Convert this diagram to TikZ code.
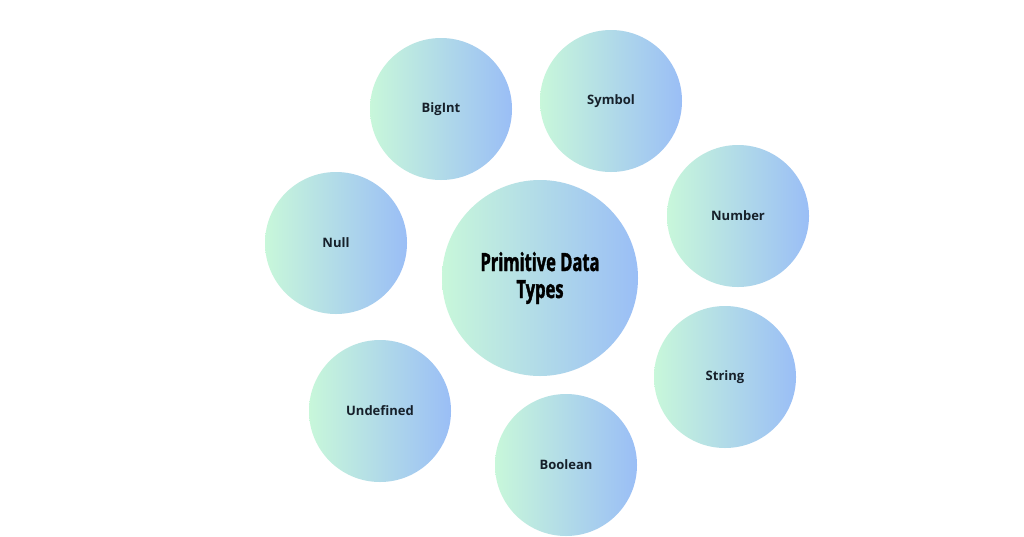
\documentclass[tikz,border=0pt]{standalone}
\usepackage{fontspec}
\setmainfont{Open Sans}
\newfontfamily\titlefont[FakeStretch=0.66,FakeBold=1.5]{Open Sans}
\definecolor{mint}{HTML}{C8F7DA}
\definecolor{skyb}{HTML}{9ABEF6}
\definecolor{ink}{HTML}{16202A}
\tikzset{
  bubble/.style={circle, draw=none, left color=mint, right color=skyb, minimum size=142pt, inner sep=0pt, text=ink, font=\fontsize{13}{15}\selectfont\bfseries},
  bigbubble/.style={bubble, minimum size=196pt, align=center, text=black, font=\titlefont\fontsize{25}{27}\selectfont\bfseries}
}
\begin{document}
\begin{tikzpicture}[x=1pt,y=-1pt]
\useasboundingbox (0,0) rectangle (1024,536);
\fill[white] (0,0) rectangle (1024,536);
\node[bigbubble] (core) at (540,278) {Primitive Data\\Types};
\node[bubble] (bigint) at (441,109) {BigInt};
\node[bubble] (symbol) at (611,101) {Symbol};
\node[bubble] (number) at (738,216) {Number};
\node[bubble] (null) at (336,243) {Null};
\node[bubble] (string) at (725,377) {String};
\node[bubble] (undef) at (380,411) {Undefined};
\node[bubble] (bool) at (566,465) {Boolean};
\end{tikzpicture}
\end{document}
